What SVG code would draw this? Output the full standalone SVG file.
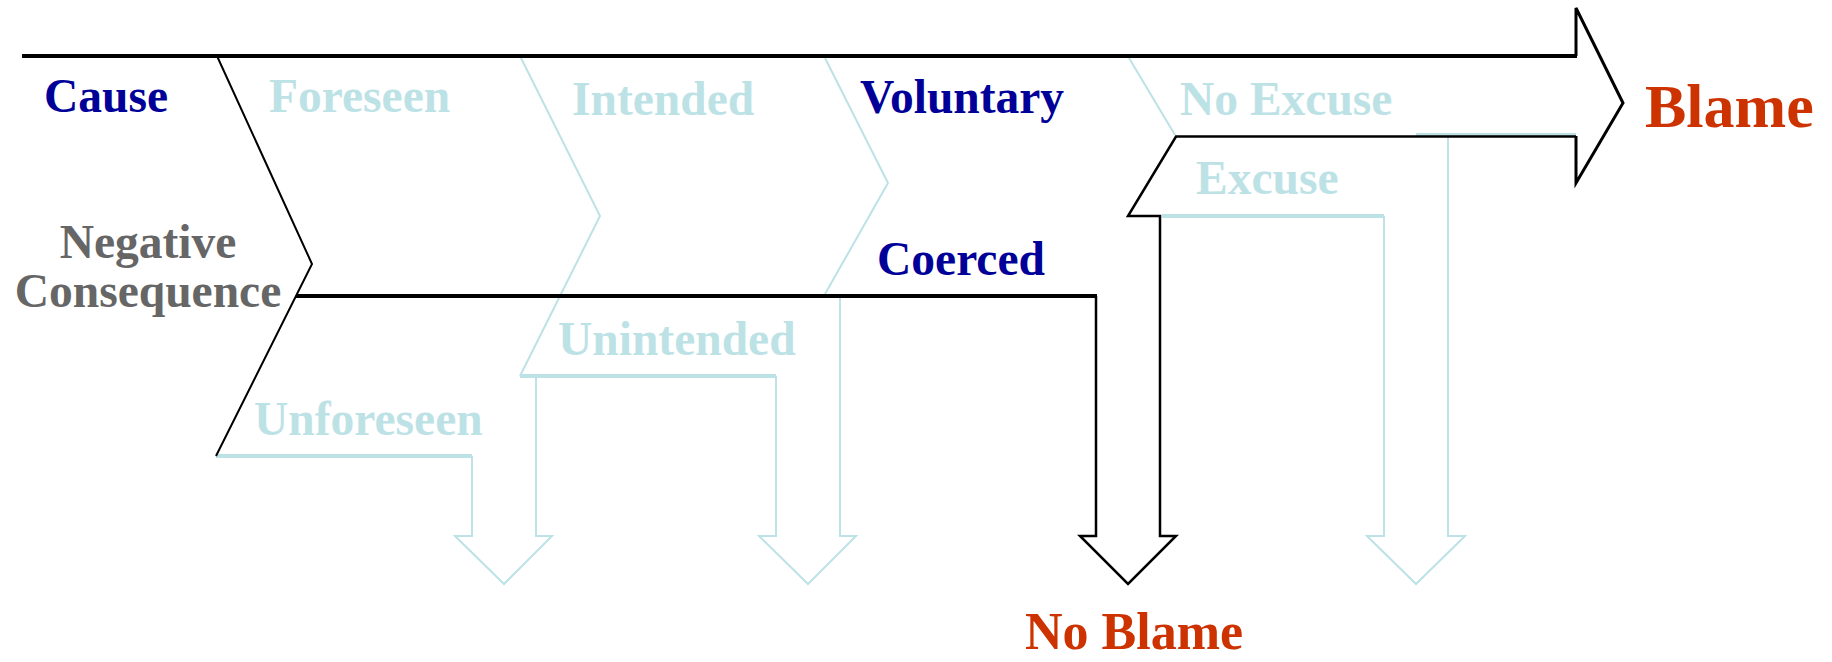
<svg xmlns="http://www.w3.org/2000/svg" width="1832" height="662" viewBox="0 0 1832 662">
<style>
.t{font-family:"Liberation Serif","Times New Roman",serif;font-weight:bold;font-size:47.5px}
.dk{fill:#000099}
.lb{fill:#BDE2E6}
.gr{fill:#666666}
.rd{fill:#CC3300}
.k{stroke:#000000;fill:none;stroke-linejoin:miter}
.c{stroke:#BDE2E6;fill:none}
</style>
<rect width="1832" height="662" fill="#FFFFFF"/>
<g id="connectors">
  <path class="c" stroke-width="4" d="M216,456 H472"/>
  <path class="c" stroke-width="2" d="M472,456 V536 H455 L504,584 L552,536 H536 V377"/>
  <path class="c" stroke-width="2" d="M520,56 L600,216 L520,376"/>
  <path class="c" stroke-width="4" d="M520,376 H776"/>
  <path class="c" stroke-width="2" d="M776,376 V536 H759 L808,584 L856,536 H840 V298"/>
  <path class="c" stroke-width="2" d="M825,58 L888,183 L825,294"/>
  <path class="c" stroke-width="2" d="M1129,58 L1175,135"/>
  <path class="c" stroke-width="4" d="M1162,216 H1384"/>
  <path class="c" stroke-width="2" d="M1384,216 V536 H1367 L1416,584 L1465,536 H1448 V137"/>
  <path class="c" stroke-width="3" d="M1416,134.5 H1576"/>
  <path class="k" stroke-width="4" d="M22,56 H1577"/>
  <path class="k" stroke-width="3" d="M1576,56 V8 L1623,103 L1576,183 V136"/>
  <path class="k" stroke-width="2.5" d="M1576,136.5 H1176 L1128,216 H1160 V536 H1176 L1128,584 L1080,536 H1096 V296"/>
  <path class="k" stroke-width="4" d="M1097,296 H296"/>
  <path class="k" stroke-width="2" d="M217,56 L312,264 L216,456"/>
</g>
<g id="node-cause"><text class="t dk" x="44" y="112">Cause</text></g>
<g id="node-negative"><text class="t gr" text-anchor="middle" x="148" y="258">Negative</text><text class="t gr" text-anchor="middle" x="148" y="307">Consequence</text></g>
<g id="node-foreseen"><text class="t lb" x="269" y="112">Foreseen</text></g>
<g id="node-unforeseen"><text class="t lb" x="254" y="435">Unforeseen</text></g>
<g id="node-intended"><text class="t lb" x="572" y="115">Intended</text></g>
<g id="node-unintended"><text class="t lb" x="558" y="355">Unintended</text></g>
<g id="node-voluntary"><text class="t dk" x="860" y="113">Voluntary</text></g>
<g id="node-coerced"><text class="t dk" x="877" y="275">Coerced</text></g>
<g id="node-noexcuse"><text class="t lb" x="1180" y="115">No Excuse</text></g>
<g id="node-excuse"><text class="t lb" x="1196" y="194">Excuse</text></g>
<g id="node-blame"><text class="t rd" x="1645" y="127" style="font-size:62px">Blame</text></g>
<g id="node-noblame"><text class="t rd" x="1025" y="649" style="font-size:52px">No Blame</text></g>
</svg>
